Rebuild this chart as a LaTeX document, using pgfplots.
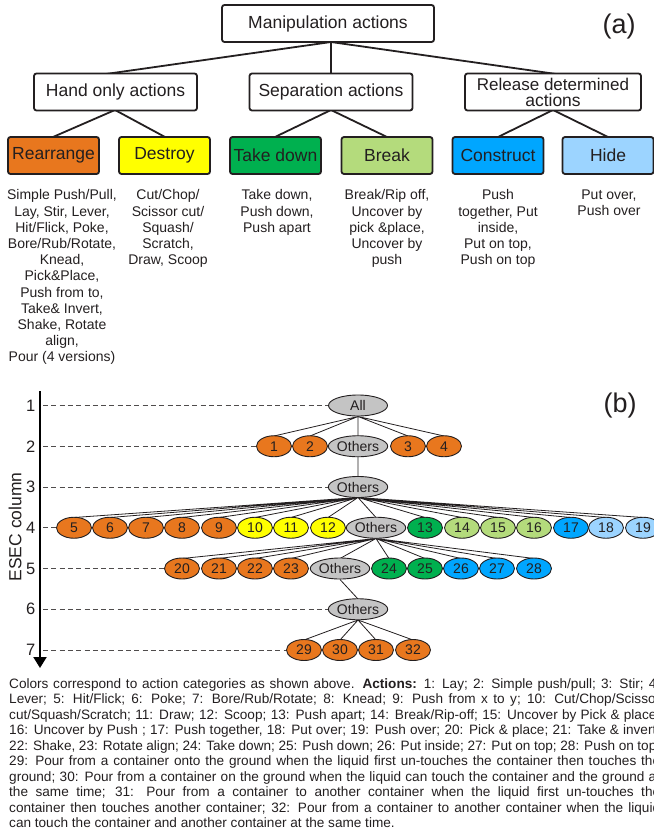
\documentclass[border=0pt]{standalone}
\usepackage{fontspec}
\setmainfont{Liberation Sans}
\usepackage{pgfplots}
\pgfplotsset{compat=1.18}
\usetikzlibrary{shapes.geometric, arrows.meta}

\definecolor{cOr}{HTML}{E8771E}
\definecolor{cYe}{HTML}{FFFF00}
\definecolor{cGr}{HTML}{00B04F}
\definecolor{cLg}{HTML}{B4DB7C}
\definecolor{cBl}{HTML}{00A6FF}
\definecolor{cLb}{HTML}{9CD4FF}
\definecolor{cGy}{HTML}{C4C4C4}
\definecolor{ink}{HTML}{231F20}

\newcommand\fs[2]{\fontsize{#1}{#2}\selectfont}
\newcommand\reltxt{{\fs{17}{16}Release determined\\actions}}

\pgfplotsset{
 tbox/.style n args={3}{only marks, mark=none, point meta=explicit symbolic, nodes near coords,
   every node near coord/.append style={rectangle, rounded corners=2.5pt, draw=ink, line width=1.8pt,
   fill=#1, minimum width=#2, minimum height=#3, inner sep=0pt, anchor=center, align=center,
   text=ink, font={\fs{17.5}{16}}}},
 tell/.style 2 args={only marks, mark=none, point meta=explicit symbolic, nodes near coords,
   every node near coord/.append style={ellipse, draw=ink, line width=0.9pt, fill=#1,
   minimum width=#2, minimum height=21pt, inner sep=0pt, anchor=center, text=ink,
   font={\fs{14}{14}}}},
}
\newcommand\capline[2]{\node[anchor=base west, inner sep=0pt, font={\fs{13.6}{15.5}}, text=ink] at (axis cs:9,#1) {\makebox[651pt][s]{#2}};}

\begin{document}
\begin{tikzpicture}
\begin{axis}[
 scale only axis, width=653pt, height=837pt,
 xmin=0, xmax=653, ymin=0, ymax=837, y dir=reverse,
 axis lines=none, clip=false, unbounded coords=jump,
]
\coordinate (BL) at (axis cs:0,837);
\coordinate (TR) at (axis cs:653,0);

% ---- (a) tree lines
\addplot[ink, line width=1.8pt] coordinates {
 (106,74) (331,42) (331,74) (nan,nan) (331,42) (556,74) (nan,nan)
 (53,137) (115,110) (165,137) (nan,nan)
 (275,137) (331,110) (387,137) (nan,nan)
 (498,137) (553,110) (608,137)};

% ---- (a) boxes
\addplot[tbox={white}{212pt}{37pt}] coordinates {(328,23.5) [Manipulation actions]};
\addplot[tbox={white}{163pt}{37pt}] coordinates {(115.5,92) [Hand only actions] (331,92) [Separation actions]};
\addplot[tbox={white}{176pt}{37pt}] coordinates {(553,92) [\reltxt]};
\addplot[tbox={cOr}{91pt}{37pt}] coordinates {(53.5,155.5) [Rearrange]};
\addplot[tbox={cYe}{91pt}{37pt}] coordinates {(164.5,155.5) [Destroy]};
\addplot[tbox={cGr}{91pt}{37pt}] coordinates {(275.5,155.5) [Take down]};
\addplot[tbox={cLg}{91pt}{37pt}] coordinates {(387,155.5) [Break]};
\addplot[tbox={cBl}{91pt}{37pt}] coordinates {(498,155.5) [Construct]};
\addplot[tbox={cLb}{91pt}{37pt}] coordinates {(608,155.5) [Hide]};

\begin{scope}[every node/.style={anchor=north, align=center, inner sep=0pt, text=ink, font={\fs{14}{16.2}}}]
\node at (axis cs:62,189.5) {Simple Push/Pull,\\Lay, Stir, Lever,\\Hit/Flick, Poke,\\Bore/Rub/Rotate,\\Knead,\\Pick\&Place,\\Push from to,\\Take\& Invert,\\Shake, Rotate\\align,\\Pour (4 versions)};
\node at (axis cs:168,189.5) {Cut/Chop/\\Scissor cut/\\Squash/\\Scratch,\\Draw, Scoop};
\node at (axis cs:277,189.5) {Take down,\\Push down,\\Push apart};
\node at (axis cs:387,189.5) {Break/Rip off,\\Uncover by\\pick \&place,\\Uncover by\\push};
\node at (axis cs:498,189.5) {Push\\together, Put\\inside,\\Put on top,\\Push on top};
\node at (axis cs:609,189.5) {Put over,\\Push over};
\end{scope}

\node[text=ink, font={\fs{27}{27}}] at (axis cs:619,27) {(a)};
\node[text=ink, font={\fs{27}{27}}] at (axis cs:620,406) {(b)};

% ---- (b) axis
\addplot[black, line width=2pt, -{Triangle[width=13pt,length=11pt]}] coordinates {(40,391) (40,668)};
\node[rotate=90, text=ink, font={\fs{17.5}{17.5}}] at (axis cs:15,527) {ESEC column};
\begin{scope}[every node/.style={anchor=east, inner sep=0pt, text=ink, font={\fs{16.5}{16.5}}}]
\node at (axis cs:35.5,405.5) {1};
\node at (axis cs:35.5,446.25) {2};
\node at (axis cs:35.5,487) {3};
\node at (axis cs:35.5,527.75) {4};
\node at (axis cs:35.5,568.5) {5};
\node at (axis cs:35.5,609.25) {6};
\node at (axis cs:35.5,650) {7};
\end{scope}

% dashed guide lines
\addplot[ink!80, line width=1pt, dash pattern=on 5pt off 3.3pt] coordinates {
 (43,405.5) (330,405.5) (nan,nan)
 (43,446.25) (258,446.25) (nan,nan)
 (43,487) (330,487) (nan,nan)
 (43,527.75) (57,527.75) (nan,nan)
 (43,568.5) (166,568.5) (nan,nan)
 (43,609.25) (330,609.25) (nan,nan)
 (43,650) (288,650)};

% tree connectors
\addplot[ink, line width=0.8pt] coordinates {
 (358,416.5) (274,436) (nan,nan) (358,416.5) (310,436) (nan,nan) (358,416.5) (358,436) (nan,nan)
 (358,416.5) (408,436) (nan,nan) (358,416.5) (444,436) (nan,nan)
 (358,457) (358,476.5) (nan,nan)
 (358,497.5) (74,517.5) (nan,nan) (358,497.5) (110,517.5) (nan,nan) (358,497.5) (146,517.5) (nan,nan)
 (358,497.5) (182,517.5) (nan,nan) (358,497.5) (219,517.5) (nan,nan) (358,497.5) (255,517.5) (nan,nan)
 (358,497.5) (291,517.5) (nan,nan) (358,497.5) (328,517.5) (nan,nan) (358,497.5) (376,517.5) (nan,nan)
 (358,497.5) (425,517.5) (nan,nan) (358,497.5) (462,517.5) (nan,nan) (358,497.5) (498,517.5) (nan,nan)
 (358,497.5) (534,517.5) (nan,nan) (358,497.5) (571,517.5) (nan,nan) (358,497.5) (606,517.5) (nan,nan)
 (358,497.5) (643,517.5) (nan,nan)
 (376,538.5) (182,558.5) (nan,nan) (376,538.5) (219,558.5) (nan,nan) (376,538.5) (255,558.5) (nan,nan)
 (376,538.5) (291,558.5) (nan,nan) (376,538.5) (340,558.5) (nan,nan) (376,538.5) (389,558.5) (nan,nan)
 (376,538.5) (425,558.5) (nan,nan) (376,538.5) (461,558.5) (nan,nan) (376,538.5) (497,558.5) (nan,nan)
 (376,538.5) (534,558.5) (nan,nan)
 (340,579.5) (358,599) (nan,nan)
 (358,620) (304,640) (nan,nan) (358,620) (340,640) (nan,nan) (358,620) (376,640) (nan,nan)
 (358,620) (413,640)};

% ellipses
\addplot[tell={cGy}{59pt}] coordinates {(358,405.5) [All] (358,446.25) [Others] (358,487) [Others]
 (376,527.75) [Others] (340,568.5) [Others] (358,609.25) [Others]};
\addplot[tell={cOr}{35pt}] coordinates {(274,446.25) [1] (310,446.25) [2] (408,446.25) [3] (444,446.25) [4]
 (74,527.75) [5] (110,527.75) [6] (146,527.75) [7] (182,527.75) [8] (219,527.75) [9]
 (182,568.5) [20] (219,568.5) [21] (255,568.5) [22] (291,568.5) [23]
 (304,650) [29] (340,650) [30] (376,650) [31] (413,650) [32]};
\addplot[tell={cYe}{35pt}] coordinates {(255,527.75) [10] (291,527.75) [11] (328,527.75) [12]};
\addplot[tell={cGr}{35pt}] coordinates {(425,527.75) [13] (389,568.5) [24] (425,568.5) [25]};
\addplot[tell={cLg}{35pt}] coordinates {(462,527.75) [14] (498,527.75) [15] (534,527.75) [16]};
\addplot[tell={cBl}{35pt}] coordinates {(571,527.75) [17] (461,568.5) [26] (497,568.5) [27] (534,568.5) [28]};
\addplot[tell={cLb}{35pt}] coordinates {(606,527.75) [18] (643,527.75) [19]};

% caption
\capline{688}{Colors correspond to action categories as shown above. \textbf{Actions:} 1: Lay; 2: Simple push/pull; 3: Stir; 4:}
\capline{703.5}{Lever; 5: Hit/Flick; 6: Poke; 7: Bore/Rub/Rotate; 8: Knead; 9: Push from x to y; 10: Cut/Chop/Scissor}
\capline{719}{cut/Squash/Scratch; 11: Draw; 12: Scoop; 13: Push apart; 14: Break/Rip-off; 15: Uncover by Pick \& place;}
\capline{734.5}{16: Uncover by Push ; 17: Push together, 18: Put over; 19: Push over; 20: Pick \& place; 21: Take \& invert;}
\capline{750}{22: Shake, 23: Rotate align; 24: Take down; 25: Push down; 26: Put inside; 27: Put on top; 28: Push on top;}
\capline{765.5}{29: Pour from a container onto the ground when the liquid first un-touches the container then touches the}
\capline{781}{ground; 30: Pour from a container on the ground when the liquid can touch the container and the ground at}
\capline{796.5}{the same time; 31: Pour from a container to another container when the liquid first un-touches the}
\capline{812}{container then touches another container; 32: Pour from a container to another container when the liquid}
\node[anchor=base west, inner sep=0pt, font={\fs{13.6}{15.5}}, text=ink] at (axis cs:9,827.5) {can touch the container and another container at the same time.};
\end{axis}
\pgfresetboundingbox
\useasboundingbox (BL) rectangle (TR);
\end{tikzpicture}
\end{document}
